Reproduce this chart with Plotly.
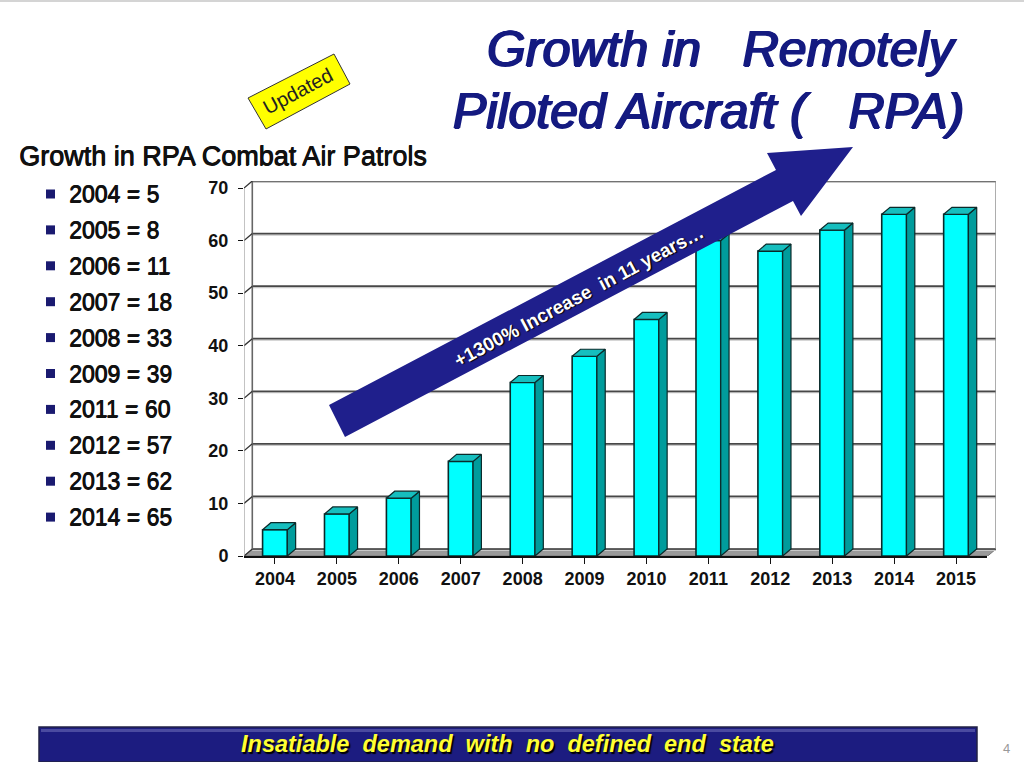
import plotly.graph_objects as go

W, H = 1024, 762
years = ["2004","2005","2006","2007","2008","2009","2010","2011","2012","2013","2014","2015"]
chart_values = [5, 8, 11, 18, 33, 38, 45, 60, 58, 62, 65, 65]
y_ticks = [0, 10, 20, 30, 40, 50, 60, 70]
patrol_lines = ["2004 = 5","2005 = 8","2006 = 11","2007 = 18","2008 = 33","2009 = 39","2011 = 60","2012 = 57","2013 = 62","2014 = 65"]
title_lines = ["Growth in   Remotely", "Piloted Aircraft (   RPA)"]
list_title = "Growth in RPA Combat Air Patrols"
arrow_text = "+1300% Increase  in 11 years…"
banner_text = "Insatiable  demand  with  no  defined  end  state"

NAVY = "#1F1F8C"
DX, DY = 0.134, 1.33   # 3-D depth in data units
BW = 0.4               # bar width in category units

px = lambda x: x / W
py = lambda y: 1 - y / H
XR = [-0.5, 11.5]
YR = [0, 70]

fig = go.Figure()

# ---- wall and floor subplot (drawn first); its coordinates are those of the back plane
def wall_line(x, y, color, width):
    fig.add_trace(go.Scatter(x=x, y=y, mode="lines", line=dict(color=color, width=width),
                             xaxis="x", yaxis="y", hoverinfo="skip", showlegend=False))

fig.add_trace(go.Scatter(x=[XR[0], XR[1], XR[1] - DX, XR[0] - DX, XR[0]], y=[0, 0, -DY, -DY, 0],
                         mode="lines", fill="toself", fillcolor="#9A9A9A",
                         line=dict(color="#777777", width=1),
                         xaxis="x", yaxis="y", hoverinfo="skip", showlegend=False))
gx, gy, sx, sy = [], [], [], []
for v in y_ticks:
    gx += [XR[0], XR[1], None]
    gy += [v, v, None]
    sx += [XR[0], XR[1], None]
    sy += [v - 0.28, v - 0.28, None]
wall_line(sx, sy, "#C8C8C8", 1.2)
wall_line(gx, gy, "#474747", 1.7)
wall_line([XR[0], XR[0]], YR, "#666666", 1.6)
wall_line([XR[1], XR[1]], YR, "#8A8A8A", 1.4)
dx_, dy_ = [], []
for v in y_ticks:
    dx_ += [XR[0], XR[0] - DX, None]
    dy_ += [v, v - DY, None]
wall_line(dx_, dy_, "#333333", 1.3)
wall_line([XR[0] - DX, XR[0] - DX], [-DY, 70 - DY], "#9A9A9A", 1.2)

# ---- front bars
fig.add_trace(go.Bar(x=list(range(12)), y=chart_values, width=BW, marker=dict(color="#00FFFF", line=dict(color="#0A2A2A", width=1.6)),
                     xaxis="x2", yaxis="y2", showlegend=False, hovertemplate="%{y}<extra></extra>"))
for i, v in enumerate(chart_values):
    l, r = i - BW / 2, i + BW / 2
    fig.add_trace(go.Scatter(x=[r, r + DX, r + DX, r, r], y=[0, DY, v + DY, v, 0], mode="lines",
                             fill="toself", fillcolor="#009C9C", line=dict(color="#0A2A2A", width=1.2),
                             xaxis="x2", yaxis="y2", hoverinfo="skip", showlegend=False))
    fig.add_trace(go.Scatter(x=[l, l + DX, r + DX, r, l], y=[v, v + DY, v + DY, v, v], mode="lines",
                             fill="toself", fillcolor="#16BEBE", line=dict(color="#0A2A2A", width=1.2),
                             xaxis="x2", yaxis="y2", hoverinfo="skip", showlegend=False))

shapes = []
# top page rule
shapes.append(dict(type="rect", xref="paper", yref="paper", x0=0, x1=1, y0=py(2), y1=1, fillcolor="#D4D4D4", line_width=0))
# arrow
arrow_pts = [(329,405),(776,170),(767,153),(853,147),(801,216),(793,201),(345,437)]
shapes.append(dict(type="path", xref="paper", yref="paper", fillcolor=NAVY, line_width=0,
                   path="M " + " L ".join(f"{px(a):.5f},{py(b):.5f}" for a, b in arrow_pts) + " Z"))
# Updated tag
tag_pts = [(248,98),(334,54),(350,84),(266,129)]
shapes.append(dict(type="path", xref="paper", yref="paper", fillcolor="#FFFF00", line=dict(color="#333333", width=1),
                   path="M " + " L ".join(f"{px(a):.5f},{py(b):.5f}" for a, b in tag_pts) + " Z"))
# list bullets
for i in range(len(patrol_lines)):
    yc = 194 + i * 35.9
    shapes.append(dict(type="rect", xref="paper", yref="paper", x0=px(46), x1=px(55), y0=py(yc + 4.5), y1=py(yc - 4.5),
                       fillcolor="#1A1A70", line_width=0))
# bottom banner
shapes.append(dict(type="rect", xref="paper", yref="paper", x0=px(39), x1=px(977), y0=0, y1=py(727),
                   fillcolor="#1C1C80", line=dict(color="#222244", width=1.5)))
shapes.append(dict(type="rect", xref="paper", yref="paper", x0=px(41), x1=px(975), y0=py(732), y1=py(729),
                   fillcolor="#4A4AA0", line_width=0))

TF = "Liberation Sans"
ann = []
def note(text, x, y, size, color, xanchor="left", angle=0, family=TF, shadow=None):
    ann.append(dict(text=text, x=px(x), y=py(y), xref="paper", yref="paper", xanchor=xanchor, yanchor="middle",
                    showarrow=False, textangle=angle, font=dict(family=family, size=size, color=color, shadow=shadow or "none")))

T = "#141A80"
thick = f"1.1px 0 0 {T}, -1.1px 0 0 {T}, 0 0.8px 0 {T}, 0 -0.5px 0 {T}"
ink = "0.7px 0 0 #111, 0 0.5px 0 #111"
note(f"<i>{title_lines[0]}</i>", 722, 49, 50, T, "center", shadow=thick)
note(f"<i>{title_lines[1]}</i>", 708, 111, 50, T, "center", shadow=thick)
note(list_title, 17, 156, 27, "#111111", shadow=ink)
for i, t in enumerate(patrol_lines):
    note(t, 67, 194 + i * 35.9, 23, "#111111", shadow=ink)
note("Updated", 298, 91, 20, "#222222", "center", -28)
note(f"<b>{arrow_text}</b>", 578, 296, 19, "#FFFFFF", "center", -28, shadow="1px 1px 1px #000")
note(f"<b><i>{banner_text}</i></b>", 507, 744, 23.5, "#FFFF33", "center", shadow="1.5px 1.5px 1px #000")
note("4", 1006, 748, 13, "#999999", "center")

tickfont = dict(family=TF, size=18, color="#111111", weight="bold")
fig.update_layout(
    width=W, height=H, autosize=False, margin=dict(l=0, r=0, t=0, b=0),
    paper_bgcolor="#FFFFFF", plot_bgcolor="rgba(0,0,0,0)", showlegend=False, bargap=0.6,
    shapes=shapes, annotations=ann,
    xaxis=dict(domain=[px(244), px(996)], range=[XR[0] - DX, XR[1]], visible=False, automargin=False, anchor="y"),
    yaxis=dict(domain=[py(556), py(181)], range=[-DY, YR[1]], visible=False, automargin=False, anchor="x"),
    xaxis2=dict(domain=[px(244), px(987)], range=XR, tickmode="array", tickvals=list(range(12)), ticktext=years, automargin=False,
                ticks="outside", ticklen=6, tickwidth=1.2, tickcolor="#111111", tickson="boundaries", tickfont=tickfont,
                showgrid=False, zeroline=False, showline=True, linecolor="#111111", linewidth=1.5, anchor="y2", type="linear"),
    yaxis2=dict(domain=[py(556), py(188)], range=YR, tickvals=y_ticks, ticks="outside", ticklen=5, tickwidth=1.2, tickcolor="#111111", automargin=False,
                tickfont=tickfont, showgrid=False, zeroline=False, showline=False, anchor="x2", ticklabelstandoff=6),
)
fig.write_html("out.html", config={"displayModeBar": False}, post_script="document.body.style.margin='0';document.body.style.overflow='hidden';")
